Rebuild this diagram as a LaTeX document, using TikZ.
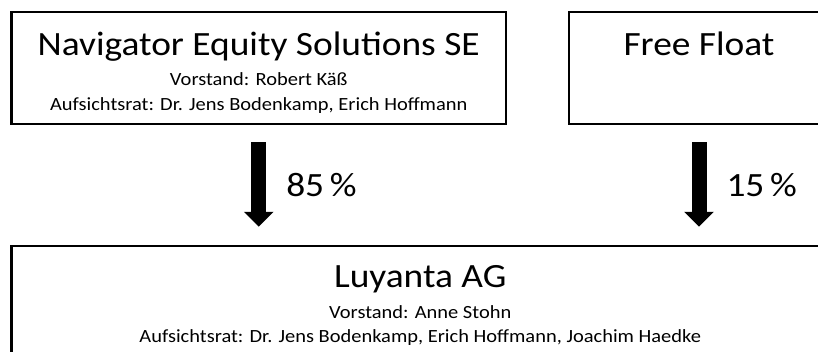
\documentclass[tikz,border=0pt]{standalone}
\usepackage{fontspec}
\setmainfont{Carlito}[FakeStretch=1.1]
\usetikzlibrary{arrows.meta}

\begin{document}
\begin{tikzpicture}[x=1pt,y=-1pt,
	box/.style={draw,line width=2.5pt,inner sep=0pt,minimum height=112pt},
	big/.style={anchor=base,inner sep=0pt,font=\fontsize{34}{40}\selectfont},
	small/.style={anchor=base,inner sep=0pt,font=\fontsize{18.6}{22}\selectfont},
	pct/.style={anchor=west,inner sep=0pt,xshift=20pt,font=\fontsize{34}{40}\selectfont},
	share/.style={-{Triangle[width=29pt,length=15pt]},line width=15pt,shorten <=17pt,shorten >=18pt}]
	\useasboundingbox (0,0) rectangle (818,351);
	% boxes
	\node[box,minimum width=494.5pt] (nav) at (258.75,68){};
	\node[box,minimum width=260pt] (ff) at (699,68){};
	\node[box,minimum width=817.5pt] (luy) at (420.25,302){};
	% texts
	\node[big] (navname) at (258.75,55){Navigator Equity Solutions SE};
	\node[small] (navvs) at (258.75,85){Vorstand: Robert Käß};
	\node[small] (navar) at (258.75,110){Aufsichtsrat: Dr. Jens Bodenkamp, Erich Hoffmann};
	\node[big] (ffname) at (699,55){Free Float};
	\node[big] (luyname) at (420.25,287){Luyanta AG};
	\node[small] (luyvs) at (420.25,318){Vorstand: Anne Stohn};
	\node[small] (luyar) at (420.25,342){Aufsichtsrat: Dr. Jens Bodenkamp, Erich Hoffmann, Joachim Haedke};
	% shares
	\draw[share] (nav.south) -- node[pct] {85\,\%} (nav.south |- luy.north);
	\draw[share] (ff.south) -- node[pct] {15\,\%} (ff.south |- luy.north);
\end{tikzpicture}
\end{document}
